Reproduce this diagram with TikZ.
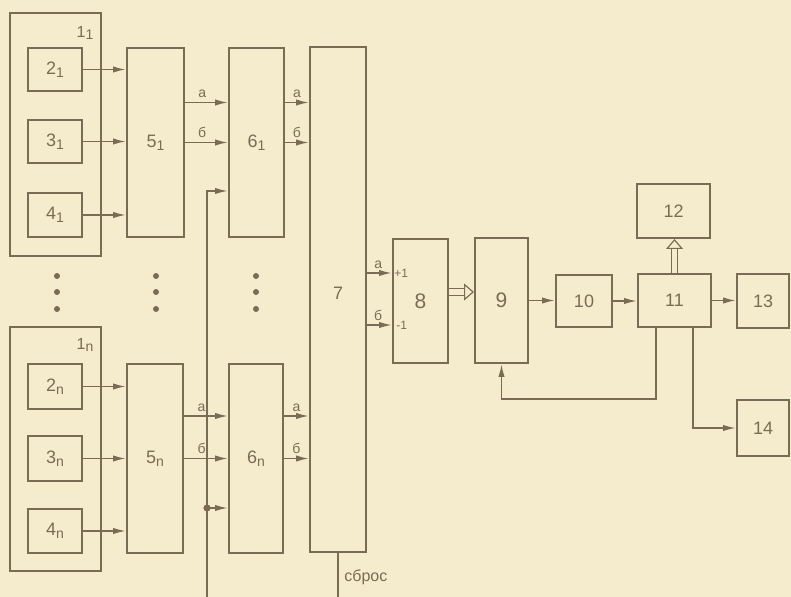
\documentclass[tikz,border=0pt]{standalone}
\usepackage{fontspec}
\setmainfont{Liberation Sans}
\usetikzlibrary{arrows.meta}
\definecolor{paper}{RGB}{245,236,206}
\definecolor{ink}{RGB}{122,108,84}
\newcommand{\lowidx}[1]{\raisebox{-0.35ex}{\fontsize{7}{8}\selectfont #1}}

\begin{document}
\begin{tikzpicture}[x=0.5pt,y=-0.5pt,
  blk/.style={draw=ink, line width=1pt, inner sep=0pt, text=ink,
              font=\fontsize{9}{10}\selectfont},
  lnk/.style={draw=ink, line width=0.85pt, -{Latex[length=6.5pt,width=3.2pt]}},
  bus/.style={draw=ink, line width=0.85pt},
  dbl/.style={draw=ink, line width=0.6pt, double=paper, double distance=2.6pt,
              -{Triangle[open, length=5pt, width=8.5pt]}},
  tag/.style={text=ink, font=\fontsize{7}{8}\selectfont, inner sep=0pt}]
\fill[paper] (0,0) rectangle (791,597);
\useasboundingbox (0,0) rectangle (791,597);

% first group
\node[blk, minimum width=45.5pt, minimum height=121.5pt] (1a) at (55.5,134.5) {};
\node[tag, font=\fontsize{8}{9}\selectfont] (1alab) at (85,33) {1\lowidx{1}};
\node[blk, minimum width=27pt, minimum height=21.5pt] (2a) at (55,69.5) {2\lowidx{1}};
\node[blk, minimum width=27pt, minimum height=21.5pt] (3a) at (55,141.5) {3\lowidx{1}};
\node[blk, minimum width=27pt, minimum height=22pt] (4a) at (55,215) {4\lowidx{1}};
\node[blk, minimum width=28.5pt, minimum height=94.5pt] (5a) at (155.5,142.5) {5\lowidx{1}};
\node[blk, minimum width=27.5pt, minimum height=94.5pt] (6a) at (256.5,142.5) {6\lowidx{1}};

% last group
\node[blk, minimum width=45.5pt, minimum height=122pt] (1n) at (55.5,449) {};
\node[tag, font=\fontsize{8}{9}\selectfont] (1nlab) at (85,345) {1\lowidx{n}};
\node[blk, minimum width=27pt, minimum height=22.5pt] (2n) at (55,386.5) {2\lowidx{n}};
\node[blk, minimum width=27pt, minimum height=22.5pt] (3n) at (55,458.5) {3\lowidx{n}};
\node[blk, minimum width=27pt, minimum height=22pt] (4n) at (55,531) {4\lowidx{n}};
\node[blk, minimum width=28pt, minimum height=94.5pt] (5n) at (155,458.5) {5\lowidx{n}};
\node[blk, minimum width=27pt, minimum height=94.5pt] (6n) at (256,458.5) {6\lowidx{n}};

\node[blk, minimum width=28pt, minimum height=252.5pt] (7) at (338,299.5) {};
\node[tag, font=\fontsize{9}{10}\selectfont] (7lab) at (338,293) {7};
\node[blk, minimum width=27.5pt, minimum height=62pt, font=\fontsize{10.5}{12}\selectfont] (8) at (420.5,301) {8};
\node[blk, minimum width=26.5pt, minimum height=62.5pt, font=\fontsize{10.5}{12}\selectfont] (9) at (501.5,300.5) {9};
\node[blk, minimum width=28pt, minimum height=26pt] (10) at (584,301) {10};
\node[blk, minimum width=36.5pt, minimum height=26.5pt] (11) at (674.5,300.5) {11};
\node[blk, minimum width=36.5pt, minimum height=27pt] (12) at (673.5,211) {12};
\node[blk, minimum width=26pt, minimum height=27pt] (13) at (763,301) {13};
\node[blk, minimum width=26pt, minimum height=28pt] (14) at (763,428) {14};

% dots between the groups
\foreach \x in {57,156,256}
  \foreach \y in {276,292,309}
    \fill[ink] (\x,\y) circle (1.5pt);

% group links
\draw[lnk] (2a) -- (2a -| 5a.west);
\draw[lnk] (3a) -- (3a -| 5a.west);
\draw[lnk] (4a) -- (4a -| 5a.west);
\draw[lnk] ([yshift=20pt]5a.east) -- ([yshift=20pt]5a.east -| 6a.west)
  node[tag, pos=.4, above=2pt] {а};
\draw[lnk] (5a.east) -- (5a.east -| 6a.west) node[tag, pos=.4, above=2pt] {б};
\draw[lnk] ([yshift=20pt]6a.east) -- ([yshift=20pt]6a.east -| 7.west)
  node[tag, pos=.5, above=2pt] {а};
\draw[lnk] (6a.east) -- (6a.east -| 7.west) node[tag, pos=.5, above=2pt] {б};

\draw[lnk] (2n) -- (2n -| 5n.west);
\draw[lnk] (3n) -- (3n -| 5n.west);
\draw[lnk] (4n) -- (4n -| 5n.west);
\draw[lnk] ([yshift=21.25pt]5n.east) -- ([yshift=21.25pt]5n.east -| 6n.west)
  node[tag, pos=.4, above=2pt] {а};
\draw[lnk] (5n.east) -- (5n.east -| 6n.west) node[tag, pos=.4, above=2pt] {б};
\draw[lnk] ([yshift=21.25pt]6n.east) -- ([yshift=21.25pt]6n.east -| 7.west)
  node[tag, pos=.5, above=2pt] {а};
\draw[lnk] (6n.east) -- (6n.east -| 7.west) node[tag, pos=.5, above=2pt] {б};

% common line to 6
\coordinate (busbot) at (207,597);
\draw[lnk] (busbot) |- ([yshift=-24.25pt]6a.west);
\path ([yshift=-24.75pt]6n.west) coordinate (in6n);
\fill[ink] (busbot |- in6n) circle (1.8pt);
\draw[lnk] (busbot |- in6n) -- (in6n);

% reset
\coordinate (resetbot) at (337,597);
\draw[bus] (7.south) -- (7.south |- resetbot);
\node[tag, font=\fontsize{8}{9}\selectfont, anchor=west] (resetlab) at (344,577) {сброс};

% 7 to 8
\draw[lnk] ([yshift=14pt]8.west -| 7.east) -- ([yshift=14pt]8.west)
  node[tag, pos=.45, above=2pt] {а};
\draw[lnk] ([yshift=-12pt]8.west -| 7.east) -- ([yshift=-12pt]8.west)
  node[tag, pos=.45, above=2pt] {б};
\node[tag, font=\fontsize{6}{7}\selectfont, anchor=west] (plus) at ([xshift=1pt,yshift=14pt]8.west) {+1};
\node[tag, font=\fontsize{6}{7}\selectfont, anchor=west] (minus) at ([xshift=2pt,yshift=-12pt]8.west) {-1};

% right part
\draw[dbl] ([yshift=4.5pt]8.east) -- ([yshift=4.5pt]8.east -| 9.west);
\draw[lnk] (9.east) -- (9.east -| 10.west);
\draw[lnk] (10.east) -- (10.east -| 11.west);
\draw[dbl] (11.north) -- (11.north |- 12.south);
\draw[lnk] (11.east) -- (11.east -| 13.west);
\draw[lnk] ([xshift=9.25pt]11.south) |- (14.west);
\coordinate (loop) at (600,399);
\draw[lnk] ([xshift=-9.25pt]11.south) |- (loop) -| (9.south);
\end{tikzpicture}
\end{document}
